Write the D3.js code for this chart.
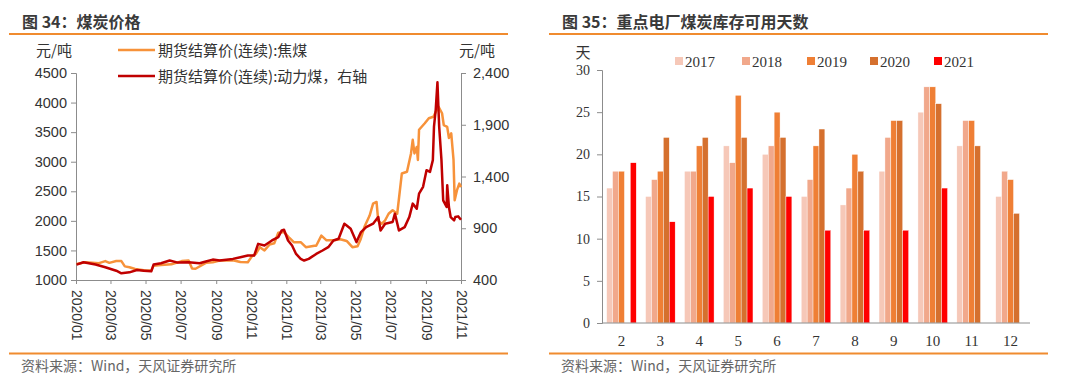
<!DOCTYPE html>
<html><head><meta charset="utf-8">
<script src="https://cdn.jsdelivr.net/npm/d3@7/dist/d3.min.js"></script>
<style>
html,body{margin:0;padding:0;background:#fff;}
svg{display:block;}
</style></head>
<body>
<svg id="c" width="1080" height="385"></svg>
<script>
// ---------- Data: left chart (coal futures settlement prices) ----------
const cokingDates = ["2020-01-02","2020-01-17","2020-02-10","2020-02-21","2020-02-28","2020-03-11","2020-03-20","2020-03-26","2020-04-03","2020-04-13","2020-04-28","2020-05-11","2020-05-15","2020-05-28","2020-06-15","2020-07-03","2020-07-15","2020-07-21","2020-07-27","2020-08-14","2020-08-26","2020-09-07","2020-09-30","2020-10-13","2020-10-26","2020-11-02","2020-11-09","2020-11-16","2020-11-24","2020-12-03","2020-12-11","2020-12-18","2020-12-28","2021-01-05","2021-01-14","2021-01-26","2021-02-04","2021-02-19","2021-02-22","2021-03-03","2021-03-12","2021-03-24","2021-04-05","2021-04-16","2021-04-26","2021-05-05","2021-05-10","2021-05-17","2021-05-26","2021-06-01","2021-06-07","2021-06-10","2021-06-16","2021-06-22","2021-06-28","2021-07-05","2021-07-13","2021-07-21","2021-07-30","2021-08-06","2021-08-09","2021-08-12","2021-08-16","2021-08-18","2021-08-20","2021-08-30","2021-09-06","2021-09-14","2021-09-20","2021-09-23","2021-09-29","2021-10-02","2021-10-08","2021-10-11","2021-10-15","2021-10-19","2021-10-21","2021-10-25","2021-10-29","2021-11-01"];
const cokingValues = [1272,1300,1285,1320,1290,1320,1320,1230,1215,1185,1165,1160,1240,1255,1265,1320,1330,1195,1190,1290,1300,1330,1335,1305,1300,1400,1440,1555,1500,1600,1620,1800,1810,1725,1640,1640,1555,1580,1580,1750,1670,1670,1690,1660,1555,1570,1680,1900,2090,2290,2320,2000,1950,2010,2120,2180,2120,2800,2830,3140,3370,3140,3250,3030,3540,3650,3735,3760,3880,3930,3820,3620,3590,3400,3480,3030,2350,2520,2630,2570];

const thermalDates = ["2020-01-02","2020-01-14","2020-02-04","2020-02-21","2020-03-11","2020-03-20","2020-04-03","2020-04-16","2020-04-28","2020-05-11","2020-05-15","2020-05-28","2020-06-12","2020-06-26","2020-07-15","2020-08-03","2020-08-14","2020-08-26","2020-09-07","2020-09-30","2020-10-13","2020-10-26","2020-11-06","2020-11-13","2020-11-24","2020-12-07","2020-12-18","2020-12-24","2020-12-28","2021-01-04","2021-01-11","2021-01-18","2021-01-26","2021-02-01","2021-02-09","2021-02-22","2021-03-05","2021-03-15","2021-03-24","2021-04-02","2021-04-12","2021-04-16","2021-04-23","2021-05-03","2021-05-11","2021-05-20","2021-06-01","2021-06-10","2021-06-14","2021-06-22","2021-07-05","2021-07-09","2021-07-16","2021-07-26","2021-08-03","2021-08-09","2021-08-16","2021-08-20","2021-08-27","2021-09-02","2021-09-08","2021-09-13","2021-09-15","2021-09-18","2021-09-21","2021-09-24","2021-09-28","2021-10-01","2021-10-07","2021-10-08","2021-10-11","2021-10-14","2021-10-20","2021-10-22","2021-10-27","2021-11-01"];
const thermalValues = [549,571,549,523,490,465,474,497,490,484,549,562,588,568,571,562,578,597,588,604,620,636,636,749,733,782,814,879,885,782,733,652,604,588,604,652,685,717,782,798,944,927,895,766,863,911,944,1008,879,944,960,1041,879,911,1008,1138,1089,1235,1300,1461,1445,1558,1882,2044,2310,1882,1558,1170,1105,1316,1105,1008,976,1008,1015,982];

const leftTicks = [1000,1500,2000,2500,3000,3500,4000,4500];
const rightTicks = [400,900,1400,1900,2400];
const xTickLabels = ["2020/01","2020/03","2020/05","2020/07","2020/09","2020/11","2021/01","2021/03","2021/05","2021/07","2021/09","2021/11"];
const seriesNames = ["期货结算价(连续):焦煤","期货结算价(连续):动力煤，右轴"];

// ---------- Data: right chart (days of coal stock at key power plants) ----------
const months = ["2","3","4","5","6","7","8","9","10","11","12"];
const years = ["2017","2018","2019","2020","2021"];
const days2017 = [16,15,18,21,20,15,14,18,25,21,15];
const days2018 = [18,17,18,19,21,17,16,22,28,24,18];
const days2019 = [18,18,21,27,25,21,20,24,28,24,17];
const days2020 = [null,22,22,22,22,23,18,24,26,21,13];
const days2021 = [19,12,15,16,15,11,11,11,16,null,null];
const dayTicks = [0,5,10,15,20,25,30];

// ---------- Styles ----------
const ORANGE = "#F7923A", RED = "#C00000", AXIS = "#8C8C8C", TXT = "#333333";
const CN = "'Noto Sans CJK SC','Liberation Sans',sans-serif";
const SANS = "'Liberation Sans',Arial,'Noto Sans CJK SC',sans-serif";
const SERIF = "'Liberation Serif','Times New Roman','Noto Sans CJK SC',serif";
const yearColors = ["#F6C8B8","#F1A88B","#EF7F35","#D5702E","#FF0000"];

const svg = d3.select("#c");

// frames (titles, separators, sources)
function frame(x0, x1, title, tx){
  svg.append("text").attr("x", tx).attr("y", 28).attr("font-family", CN)
     .attr("font-size", 16).attr("font-weight", "bold").attr("fill", "#3a3a3a").text(title);
  svg.append("line").attr("x1", x0).attr("x2", x1).attr("y1", 34).attr("y2", 34)
     .attr("stroke", "#F08B2F").attr("stroke-width", 2);
  svg.append("line").attr("x1", x0).attr("x2", x1).attr("y1", 353.5).attr("y2", 353.5)
     .attr("stroke", "#F08B2F").attr("stroke-width", 2);
  svg.append("text").attr("x", tx - 1).attr("y", 371).attr("font-family", CN)
     .attr("font-size", 14).attr("fill", "#666").text("资料来源：Wind，天风证券研究所");
}
frame(9, 508, "图 34：煤炭价格", 22);
frame(549, 1048, "图 35：重点电厂煤炭库存可用天数", 562);

// ---------- Left chart ----------
const parse = d3.timeParse("%Y-%m-%d");
const L = {left: 76, right: 461, top: 73, bottom: 280};
const x = d3.scaleTime().domain([parse("2020-01-01"), parse("2021-11-01")]).range([L.left, L.right]);
const yL = d3.scaleLinear().domain([1000, 4500]).range([L.bottom, L.top]);
const yR = d3.scaleLinear().domain([400, 2400]).range([L.bottom, L.top]);

const gL = svg.append("g");
const axL = gL.append("g").attr("transform", `translate(${L.left},0)`)
  .call(d3.axisLeft(yL).tickValues(leftTicks).tickFormat(d3.format("d")).tickSize(5).tickPadding(4));
const axR = gL.append("g").attr("transform", `translate(${L.right},0)`)
  .call(d3.axisRight(yR).tickValues(rightTicks).tickFormat(d3.format(",")).tickSize(5).tickPadding(7));
const tickDates = xTickLabels.map(s => parse(s.replace("/", "-") + "-01"));
const axX = gL.append("g").attr("transform", `translate(0,${L.bottom})`)
  .call(d3.axisBottom(x).tickValues(tickDates).tickFormat((d,i) => xTickLabels[i]).tickSize(4).tickSizeOuter(0));
axX.selectAll("text").attr("transform", "rotate(90)").attr("text-anchor", "start")
   .attr("x", 10).attr("y", 0).attr("dy", "0.35em");
[axL, axR, axX].forEach(a => {
  a.selectAll("path,line").attr("stroke", AXIS);
  a.selectAll("text").attr("font-family", SANS).attr("font-size", 14.5).attr("fill", TXT);
});
axX.selectAll("text").attr("font-size", 14);

const lineL = d3.line().x(d => x(d[0])).y(d => yL(d[1]));
const lineR = d3.line().x(d => x(d[0])).y(d => yR(d[1]));
gL.append("path").datum(cokingDates.map((d,i) => [parse(d), cokingValues[i]]))
  .attr("d", lineL).attr("fill", "none").attr("stroke", ORANGE).attr("stroke-width", 2.5).attr("stroke-linejoin", "round");
gL.append("path").datum(thermalDates.map((d,i) => [parse(d), thermalValues[i]]))
  .attr("d", lineR).attr("fill", "none").attr("stroke", RED).attr("stroke-width", 2.5).attr("stroke-linejoin", "round");

gL.append("text").attr("x", 54).attr("y", 56).attr("text-anchor", "middle").attr("font-family", CN)
  .attr("font-size", 15).attr("fill", TXT).text("元/吨");
gL.append("text").attr("x", 459).attr("y", 56).attr("font-family", CN)
  .attr("font-size", 15).attr("fill", TXT).text("元/吨");

[ORANGE, RED].forEach((c, i) => {
  const yy = 50 + i * 26;
  gL.append("line").attr("x1", 118).attr("x2", 155).attr("y1", yy).attr("y2", yy)
    .attr("stroke", c).attr("stroke-width", 2.5);
  gL.append("text").attr("x", 158).attr("y", yy + 5.5).attr("font-family", CN)
    .attr("font-size", 15).attr("fill", TXT).text(seriesNames[i]);
});

// ---------- Right chart ----------
const R = {left: 602, right: 1030, top: 70, bottom: 323};
const xb = d3.scaleBand().domain(months).range([R.left, R.right]).paddingInner(0.24).paddingOuter(0.12);
const xin = d3.scaleBand().domain(years).range([0, xb.bandwidth()]);
const yD = d3.scaleLinear().domain([0, 30]).range([R.bottom, R.top]);
const allYears = [days2017, days2018, days2019, days2020, days2021];

const gR = svg.append("g");
years.forEach((yr, j) => {
  gR.append("g").selectAll("rect")
    .data(months.map((m, i) => ({m, v: allYears[j][i]})).filter(d => d.v != null))
    .join("rect")
    .attr("x", d => xb(d.m) + xin(yr))
    .attr("width", xin.bandwidth())
    .attr("y", d => yD(d.v))
    .attr("height", d => yD(0) - yD(d.v))
    .attr("fill", yearColors[j])
    .attr("stroke", "#fff").attr("stroke-width", 0.4);
});

const ayD = gR.append("g").attr("transform", `translate(${R.left},0)`)
  .call(d3.axisLeft(yD).tickValues(dayTicks).tickSize(5).tickPadding(7));
const axM = gR.append("g").attr("transform", `translate(0,${R.bottom})`)
  .call(d3.axisBottom(xb).tickSize(0).tickPadding(12));
axM.select("path").attr("d", `M${R.left},0H${R.right}`);
[ayD, axM].forEach(a => {
  a.selectAll("path,line").attr("stroke", AXIS);
  a.selectAll("text").attr("font-family", SERIF).attr("font-size", 15).attr("fill", TXT);
});
ayD.selectAll("text").attr("font-size", 14);

gR.append("text").attr("x", 583).attr("y", 58).attr("text-anchor", "middle").attr("font-family", CN)
  .attr("font-size", 15).attr("fill", TXT).text("天");

const legX = [675, 742, 807, 870, 934];
years.forEach((yr, j) => {
  gR.append("rect").attr("x", legX[j]).attr("y", 57).attr("width", 8).attr("height", 8).attr("fill", yearColors[j]);
  gR.append("text").attr("x", legX[j] + 10).attr("y", 67).attr("font-family", SERIF)
    .attr("font-size", 15).attr("fill", TXT).text(yr);
});
</script>
</body></html>
